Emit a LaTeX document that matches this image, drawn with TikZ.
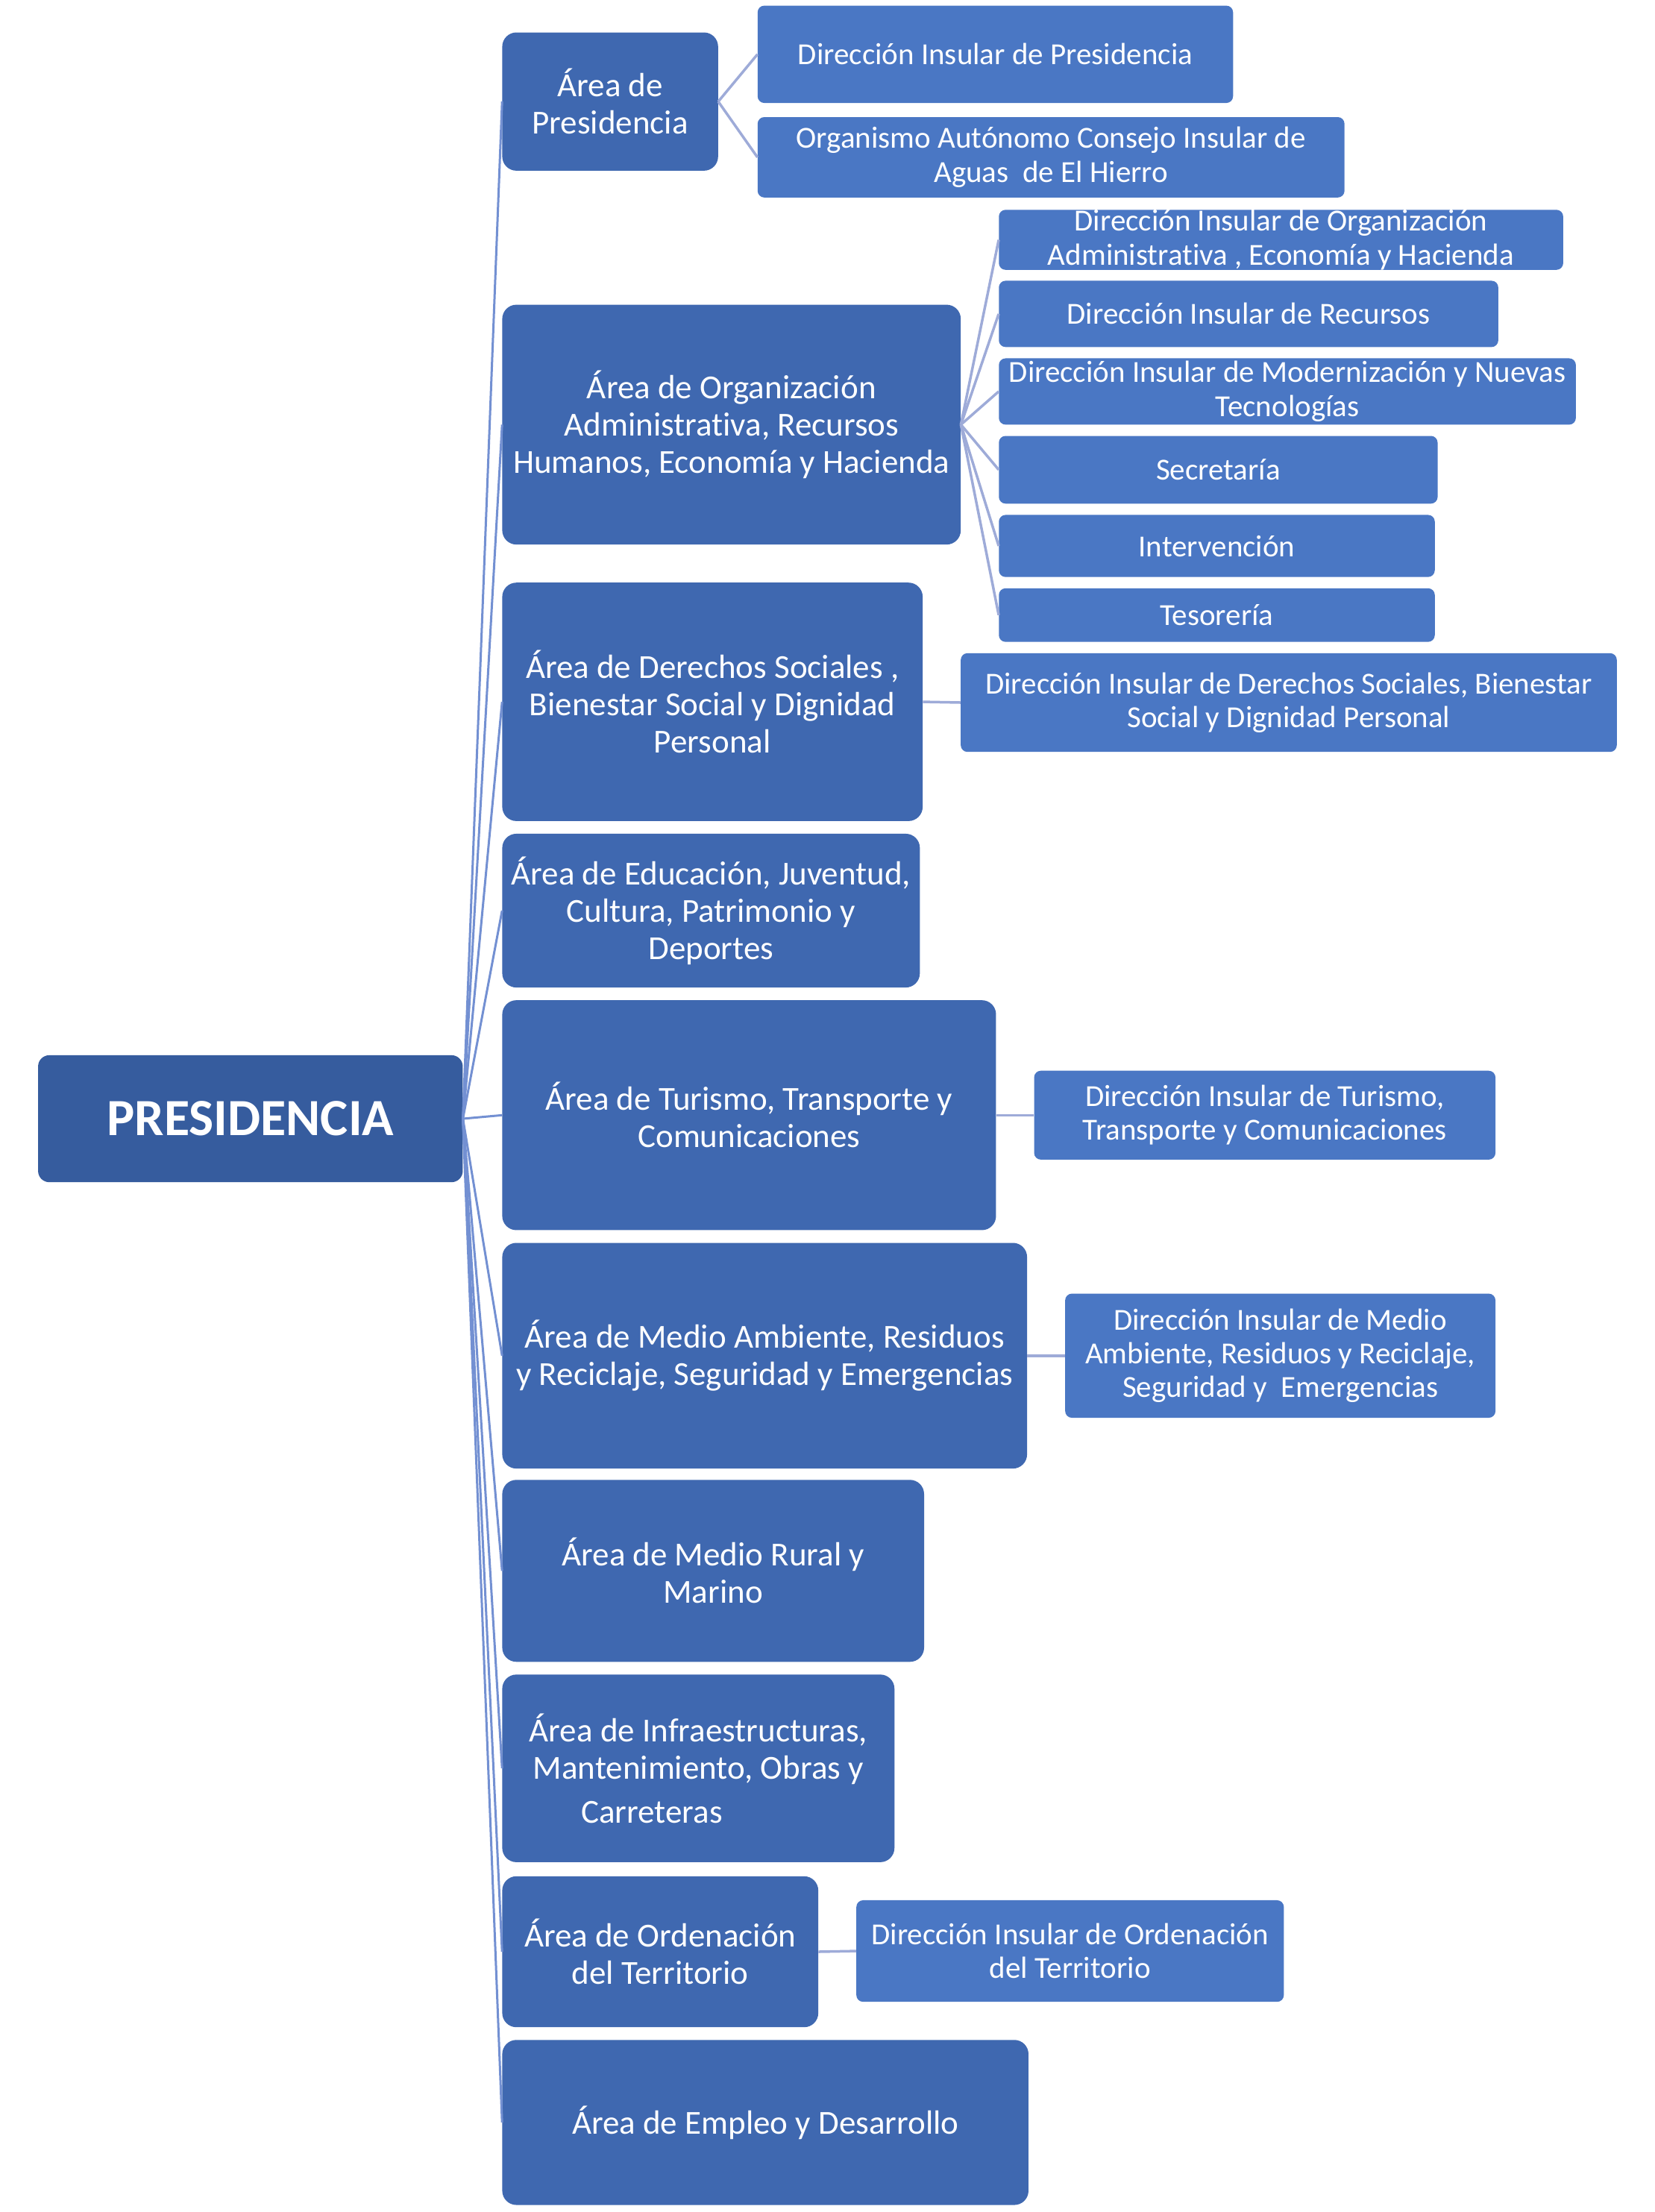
\documentclass[tikz,border=0pt]{standalone}
\usepackage{fontspec}
\setmainfont{Carlito}[Ligatures=NoCommon]
\definecolor{presc}{HTML}{365C9E}
\definecolor{areac}{HTML}{3F68B0}
\definecolor{subc}{HTML}{4A77C4}
\definecolor{mainc}{HTML}{7390D2}
\definecolor{linkc}{HTML}{9EABD8}
\newcommand\bx[7]{\node[#2, minimum width={(#5-#3)*1.891pt}, minimum height={(#6-#4)*1.891pt}] (#1) at ({(#3+#5)/2},{(#4+#6)/2}) {#7};}
\tikzset{
  box/.style={rectangle, inner sep=0pt, align=center, text=white},
  pres/.style={box, fill=presc, rounded corners=15pt, font=\bfseries\fontsize{70}{80}\selectfont},
  area/.style={box, fill=areac, rounded corners=19pt, font=\fontsize{45}{50}\selectfont},
  sub/.style={box, fill=subc, rounded corners=9pt, font=\fontsize{41}{45.4}\selectfont},
  mainln/.style={draw=mainc, line width=3pt},
  linkln/.style={draw=linkc, line width=3.5pt}
}
\begin{document}
\begin{tikzpicture}[x=1.891pt,y=-1.891pt]
\useasboundingbox (0,0) rectangle (1173,1568);
\bx{P}{pres}{27}{748}{328}{838}{PRESIDENCIA}
\bx{a1}{area}{356}{23}{509}{121}{Área de\\Presidencia}
\bx{a2}{area}{356}{216}{681}{386}{Área de Organización\\Administrativa, Recursos\\Humanos, Economía y Hacienda}
\bx{a3}{area}{356}{413}{654}{582}{Área de Derechos Sociales ,\\Bienestar Social y Dignidad\\Personal}
\bx{a4}{area}{356}{591}{652}{700}{Área de Educación, Juventud,\\Cultura, Patrimonio y\\Deportes}
\bx{a5}{area}{356}{709}{706}{872}{Área de Turismo, Transporte y\\Comunicaciones}
\bx{a6}{area}{356}{881}{728}{1041}{Área de Medio Ambiente, Residuos\\y Reciclaje, Seguridad y Emergencias}
\bx{a7}{area}{356}{1049}{655}{1178}{Área de Medio Rural y\\Marino}
\bx{a8}{area}{356}{1187}{634}{1320}{Área de Infraestructuras,\\Mantenimiento, Obras y\\[9pt]\hspace*{-125pt}Carreteras}
\bx{a9}{area}{356}{1330}{580}{1437}{Área de Ordenación\\del Territorio}
\bx{a10}{area}{356}{1446}{729}{1563}{Área de Empleo y Desarrollo}

\bx{s1a}{sub}{537}{4}{874}{73}{Dirección Insular de Presidencia}
\bx{s1b}{sub}{537}{83}{953}{140}{Organismo Autónomo Consejo Insular de\\Aguas~ de El Hierro}
\bx{s2a}{sub}{708}{149}{1108}{191}{Dirección Insular de Organización\\Administrativa , Economía y Hacienda}
\bx{s2b}{sub}{708}{199}{1062}{246}{Dirección Insular de Recursos}
\bx{s2c}{sub}{708}{254}{1117}{301}{Dirección Insular de Modernización y Nuevas\\Tecnologías}
\bx{s2d}{sub}{708}{309}{1019}{357}{Secretaría}
\bx{s2e}{sub}{708}{365}{1017}{409}{Intervención}
\bx{s2f}{sub}{708}{417}{1017}{455}{Tesorería}
\bx{s3}{sub}{681}{463}{1146}{533}{Dirección Insular de Derechos Sociales, Bienestar\\Social y Dignidad Personal}
\bx{s5}{sub}{733}{759}{1060}{822}{Dirección Insular de Turismo,\\Transporte y Comunicaciones}
\bx{s6}{sub}{755}{917}{1060}{1005}{Dirección Insular de Medio\\Ambiente, Residuos y Reciclaje,\\Seguridad y~ Emergencias}
\bx{s9}{sub}{607}{1347}{910}{1419}{Dirección Insular de Ordenación\\del Territorio}

\foreach \a in {a1,a2,a3,a4,a5,a6,a7,a8,a9,a10}
  \draw[mainln] (P.east) -- (\a.west);
\draw[linkln] (a1.east) -- (s1a.west);
\draw[linkln] (a1.east) -- (s1b.west);
\foreach \s in {s2a,s2b,s2c,s2d,s2e,s2f}
  \draw[linkln] (a2.east) -- (\s.west);
\draw[linkln] (a3.east) -- (s3.west);
\draw[linkln] (a5.east) -- (s5.west);
\draw[linkln] (a6.east) -- (s6.west);
\draw[linkln] (a9.east) -- (s9.west);
\end{tikzpicture}
\end{document}
